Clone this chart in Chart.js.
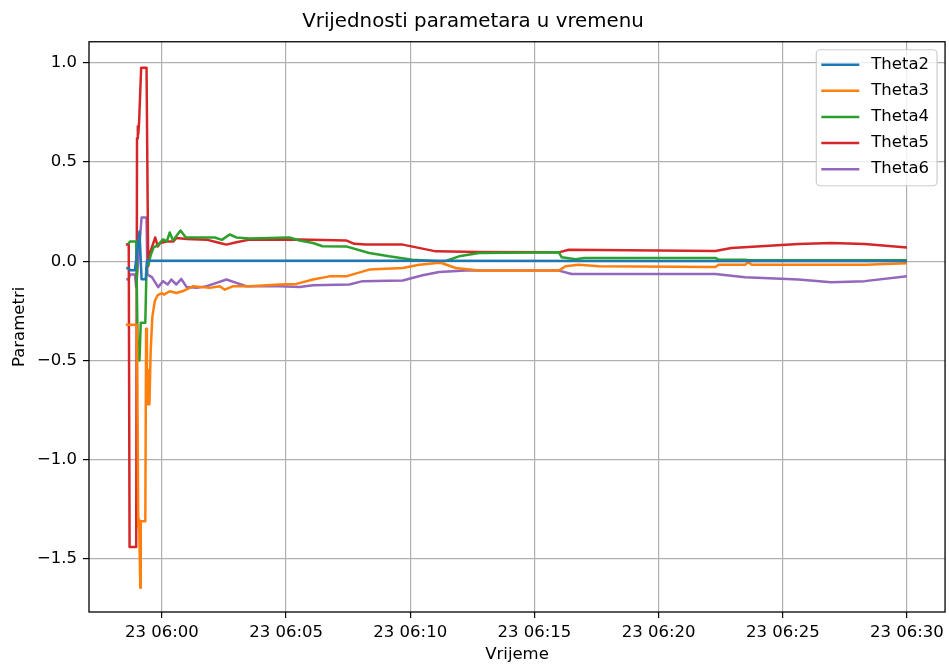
<!DOCTYPE html>
<html>
<head>
<meta charset="utf-8">
<title>Vrijednosti parametara u vremenu</title>
<script src="https://cdn.jsdelivr.net/npm/chart.js@4.4.1/dist/chart.umd.min.js"></script>
<style>
  html, body { margin: 0; padding: 0; background: #fff; }
  #wrap { width: 949px; height: 666px; }
</style>
</head>
<body>
<div id="wrap"><canvas id="paramChart"></canvas></div>
<script>
// Oznake na osima
const xTickTimes = ['06:00', '06:05', '06:10', '06:15', '06:20', '06:25', '06:30'];
const yTickValues = [-1.5, -1.0, -0.5, 0.0, 0.5, 1.0];
const seriesNames = ['Theta2', 'Theta3', 'Theta4', 'Theta5', 'Theta6'];
const seriesColors = ['#1f77b4', '#ff7f0e', '#2ca02c', '#d62728', '#9467bd'];

// Procijenjeni parametri [vrijeme, vrijednost]
const theta2 = [
    ['05:58:34', -0.035], ['05:58:40', -0.035], ['05:58:43', -0.045], ['05:58:55', -0.045],
    ['05:59:06', 0.15], ['05:59:11', -0.09], ['05:59:21', -0.09], ['05:59:24', 0.003],
    ['06:10:00', 0.003], ['06:20:00', 0.002], ['06:30:00', 0.002]
];
const theta3 = [
    ['05:58:33', -0.32], ['05:59:00', -0.32], ['05:59:03', -1.34], ['05:59:05', -1.30],
    ['05:59:08', -1.645], ['05:59:09', -1.31], ['05:59:20', -1.31], ['05:59:22', -0.34],
    ['05:59:24', -0.60], ['05:59:26', -0.72], ['05:59:28', -0.55], ['05:59:30', -0.72],
    ['05:59:33', -0.45], ['05:59:37', -0.28], ['05:59:43', -0.20], ['05:59:50', -0.17],
    ['06:00:00', -0.16], ['06:00:05', -0.168], ['06:00:19', -0.151], ['06:00:35', -0.16],
    ['06:00:51', -0.15], ['06:01:15', -0.126], ['06:01:56', -0.134], ['06:02:20', -0.126],
    ['06:02:32', -0.143], ['06:02:51', -0.126], ['06:03:32', -0.126], ['06:04:44', -0.117],
    ['06:05:25', -0.114], ['06:06:05', -0.092], ['06:06:45', -0.076], ['06:07:25', -0.076],
    ['06:08:21', -0.042], ['06:09:42', -0.034], ['06:10:22', -0.017], ['06:11:10', -0.008],
    ['06:11:17', -0.010], ['06:11:50', -0.034], ['06:12:46', -0.047], ['06:15:59', -0.047],
    ['06:16:15', -0.025], ['06:16:47', -0.017], ['06:17:36', -0.025], ['06:22:17', -0.029],
    ['06:22:25', -0.017], ['06:23:29', -0.017], ['06:23:37', -0.005], ['06:23:45', -0.017],
    ['06:28:18', -0.017], ['06:30:00', -0.010]
];
const theta4 = [
    ['05:58:38', 0.085], ['05:58:43', 0.10], ['05:58:58', 0.10], ['05:59:02', -0.49],
    ['05:59:06', -0.50], ['05:59:09', -0.31], ['05:59:20', -0.31], ['05:59:23', -0.03],
    ['05:59:28', -0.015], ['05:59:33', 0.03], ['05:59:40', 0.07], ['05:59:50', 0.08],
    ['06:00:03', 0.11], ['06:00:12', 0.10], ['06:00:19', 0.145], ['06:00:27', 0.105],
    ['06:00:45', 0.155], ['06:00:58', 0.12], ['06:01:30', 0.12], ['06:02:08', 0.12],
    ['06:02:25', 0.108], ['06:02:44', 0.135], ['06:03:00', 0.12], ['06:03:32', 0.115],
    ['06:05:08', 0.12], ['06:05:33', 0.105], ['06:06:05', 0.092], ['06:06:28', 0.076],
    ['06:07:25', 0.075], ['06:08:21', 0.042], ['06:09:09', 0.025], ['06:10:05', 0.008],
    ['06:11:10', 0.0], ['06:11:26', 0.002], ['06:11:58', 0.025], ['06:12:46', 0.042],
    ['06:15:59', 0.045], ['06:16:06', 0.02], ['06:16:40', 0.01], ['06:17:00', 0.017],
    ['06:22:17', 0.017], ['06:22:25', 0.008], ['06:23:29', 0.008], ['06:23:37', 0.005],
    ['06:30:00', 0.005]
];
const theta5 = [
    ['05:58:33', 0.085], ['05:58:40', 0.085], ['05:58:42', -1.44], ['05:58:58', -1.44],
    ['05:59:00', 0.62], ['05:59:02', 0.68], ['05:59:03', 0.64], ['05:59:05', 0.70],
    ['05:59:10', 0.975], ['05:59:23', 0.975], ['05:59:27', -0.025], ['05:59:31', 0.04],
    ['05:59:44', 0.12], ['05:59:50', 0.075], ['05:59:56', 0.092], ['06:00:12', 0.10],
    ['06:00:28', 0.10], ['06:00:35', 0.117], ['06:01:00', 0.112], ['06:01:48', 0.109],
    ['06:02:20', 0.092], ['06:02:36', 0.084], ['06:03:00', 0.096], ['06:03:32', 0.109],
    ['06:05:33', 0.11], ['06:07:25', 0.105], ['06:07:45', 0.088], ['06:08:13', 0.084],
    ['06:09:42', 0.084], ['06:11:02', 0.05], ['06:12:46', 0.047], ['06:15:59', 0.045],
    ['06:16:23', 0.058], ['06:22:17', 0.052], ['06:22:56', 0.067], ['06:24:17', 0.077],
    ['06:25:38', 0.087], ['06:26:57', 0.092], ['06:28:18', 0.087], ['06:30:00', 0.07]
];
const theta6 = [
    ['05:58:34', -0.09], ['05:58:40', -0.09], ['05:58:43', -0.067], ['05:58:55', -0.067],
    ['05:58:58', -0.13], ['05:59:11', 0.22], ['05:59:23', 0.22], ['05:59:25', -0.067],
    ['05:59:36', -0.08], ['05:59:51', -0.13], ['06:00:03', -0.10], ['06:00:14', -0.117],
    ['06:00:23', -0.092], ['06:00:35', -0.117], ['06:00:47', -0.089], ['06:01:00', -0.13],
    ['06:01:24', -0.134], ['06:01:48', -0.126], ['06:02:12', -0.109], ['06:02:36', -0.092],
    ['06:03:00', -0.109], ['06:03:24', -0.126], ['06:04:44', -0.126], ['06:05:33', -0.13],
    ['06:06:05', -0.121], ['06:07:33', -0.117], ['06:08:05', -0.10], ['06:09:42', -0.097],
    ['06:10:30', -0.07], ['06:11:10', -0.054], ['06:12:14', -0.047], ['06:15:59', -0.047],
    ['06:16:30', -0.064], ['06:22:17', -0.064], ['06:23:29', -0.08], ['06:25:38', -0.092],
    ['06:26:57', -0.106], ['06:28:18', -0.10], ['06:30:00', -0.076]
];

// Minute u odnosu na 06:00
function toMinutes(t) {
    const p = t.split(':').map(Number);
    return p[0] * 60 + p[1] + (p[2] || 0) / 60 - 360;
}

const allSeries = [theta2, theta3, theta4, theta5, theta6];

const datasets = allSeries.map((s, i) => ({
    label: seriesNames[i],
    data: s.map(p => ({ x: toMinutes(p[0]), y: p[1] })),
    borderColor: seriesColors[i],
    backgroundColor: seriesColors[i],
    borderWidth: 2.5,
    borderJoinStyle: 'round',
    pointRadius: 0,
    tension: 0,
    fill: false
}));

// Okvir oko grafa
const axesFrame = {
    id: 'axesFrame',
    afterDatasetsDraw(chart) {
        const { ctx, chartArea: a } = chart;
        ctx.save();
        ctx.strokeStyle = '#000';
        ctx.lineWidth = 1.3;
        ctx.strokeRect(a.left, a.top, a.right - a.left, a.bottom - a.top);
        ctx.restore();
    }
};

// Legenda u gornjem desnom kutu
const legendBox = {
    id: 'legendBox',
    afterDraw(chart) {
        const { ctx, chartArea } = chart;
        ctx.save();
        ctx.font = '16.5px "DejaVu Sans"';
        const textW = Math.max(...seriesNames.map(n => ctx.measureText(n).width));
        const w = 5 + 38 + 12 + textW + 8;
        const h = 136;
        const x0 = chartArea.right - 8 - w;
        const y0 = chartArea.top + 8;
        ctx.beginPath();
        ctx.roundRect(x0, y0, w, h, 4);
        ctx.fillStyle = 'rgba(255,255,255,0.8)';
        ctx.fill();
        ctx.strokeStyle = '#cccccc';
        ctx.lineWidth = 1.2;
        ctx.stroke();
        chart.data.datasets.forEach((ds, i) => {
            const y = y0 + 15 + i * 26.1;
            ctx.beginPath();
            ctx.moveTo(x0 + 5, y);
            ctx.lineTo(x0 + 43, y);
            ctx.strokeStyle = ds.borderColor;
            ctx.lineWidth = 2.5;
            ctx.stroke();
            ctx.fillStyle = '#000';
            ctx.textBaseline = 'middle';
            ctx.fillText(ds.label, x0 + 55, y);
        });
        ctx.restore();
    }
};

Chart.defaults.font.family = '"DejaVu Sans", sans-serif';
Chart.defaults.color = '#000';

const ctx = document.getElementById('paramChart').getContext('2d');
const paramChart = new Chart(ctx, {
    type: 'line',
    data: { datasets: datasets },
    plugins: [axesFrame, legendBox],
    options: {
        responsive: true,
        maintainAspectRatio: false,
        animation: false,
        layout: { padding: { left: 0, right: 3, top: 0, bottom: 0 } },
        plugins: {
            legend: { display: false },
            tooltip: { enabled: false },
            title: {
                display: true,
                text: 'Vrijednosti parametara u vremenu',
                color: '#000',
                font: { size: 19.8, weight: 'normal' },
                padding: { top: 10, bottom: 8 }
            }
        },
        scales: {
            x: {
                type: 'linear',
                min: toMinutes('05:57:04'),
                max: toMinutes('06:31:32'),
                afterBuildTicks: s => { s.ticks = xTickTimes.map(t => ({ value: toMinutes(t) })); },
                afterFit: s => { s.height = 54; },
                ticks: {
                    color: '#000',
                    font: { size: 16.5 },
                    padding: 5,
                    maxRotation: 0,
                    autoSkip: false,
                    callback: (v, i) => '23 ' + xTickTimes[i]
                },
                grid: { color: '#b0b0b0', lineWidth: 1.2, tickColor: '#000', tickLength: 6, tickWidth: 1.2 },
                border: { display: false },
                title: { display: true, text: 'Vrijeme', color: '#000', font: { size: 16.5 }, padding: { top: 0, bottom: 1 } }
            },
            y: {
                type: 'linear',
                min: -1.767,
                max: 1.106,
                afterBuildTicks: s => { s.ticks = yTickValues.map(v => ({ value: v })); },
                afterFit: s => { s.width = 89; },
                ticks: {
                    color: '#000',
                    font: { size: 16.5 },
                    padding: 6,
                    autoSkip: false,
                    callback: v => v.toFixed(1).replace('-', '\u2212')
                },
                grid: { color: '#b0b0b0', lineWidth: 1.2, tickColor: '#000', tickLength: 6, tickWidth: 1.2 },
                border: { display: false },
                title: { display: true, text: 'Parametri', color: '#000', font: { size: 16.5 }, padding: { top: 10, bottom: 0 } }
            }
        }
    }
});
</script>
</body>
</html>
